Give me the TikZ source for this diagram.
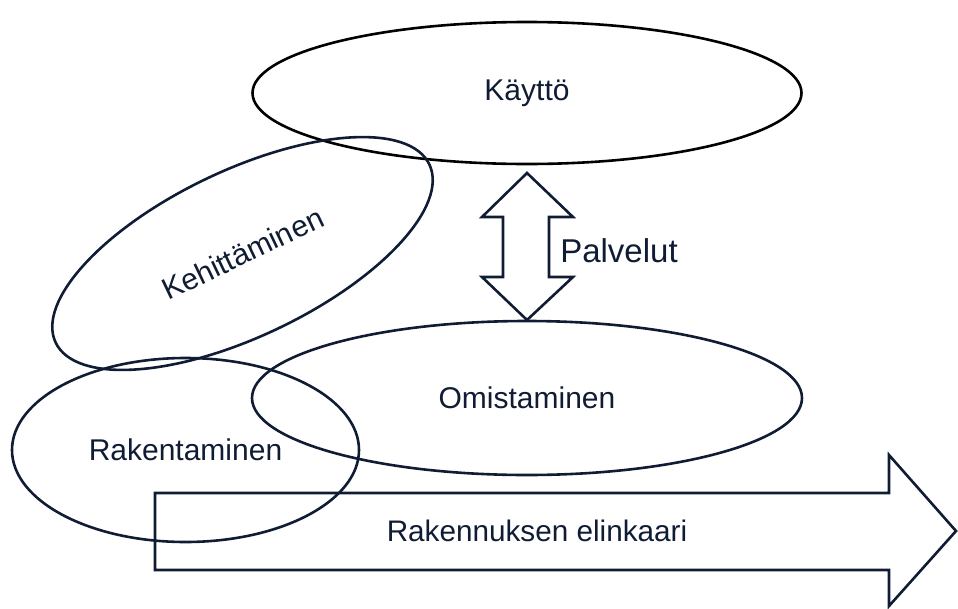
\documentclass[tikz,border=0pt]{standalone}
\usepackage{fontspec}
\setmainfont{Liberation Sans}
\usetikzlibrary{shapes.geometric}
\definecolor{navy}{RGB}{16,28,52}
\tikzset{
  ovalbox/.style={ellipse, draw=navy, line width=2.6pt, inner sep=0pt, text=navy,
    font=\fontsize{30}{36}\selectfont},
  bigshape/.style={draw=navy, line width=2.6pt, line join=miter},
  lbl/.style={text=navy, inner sep=0pt}
}
\begin{document}
\begin{tikzpicture}[x=1pt,y=-1pt]
\useasboundingbox (0,0) rectangle (958,608);
% ellipses
\node[ovalbox, draw=black, minimum width=549pt, minimum height=142pt] (kaytto) at (527,93) {Käyttö};
\node[ovalbox, minimum width=414pt, minimum height=166pt, rotate=25.5] (kehit) at (242.5,253.5) {Kehittäminen};
\node[ovalbox, minimum width=550pt, minimum height=154pt] (omist) at (527,398) {Omistaminen};
\node[ovalbox, minimum width=347pt, minimum height=184pt] (raken) at (185.5,450) {Rakentaminen};
% double arrow
\draw[bigshape] (527,173) -- (573,217) -- (549,217) -- (549,277) -- (573,277) -- (527,320)
  -- (482,277) -- (503,277) -- (503,217) -- (482,217) -- cycle;
\node[lbl, font=\fontsize{33}{40}\selectfont] (palv) at (619,251) {Palvelut};
% big arrow
\draw[bigshape] (155,493) -- (889,493) -- (889,455) -- (956,531) -- (889,606) -- (889,570) -- (155,570) -- cycle;
\node[lbl, font=\fontsize{29.7}{36}\selectfont] (elink) at (537,531) {Rakennuksen elinkaari};
\end{tikzpicture}
\end{document}
